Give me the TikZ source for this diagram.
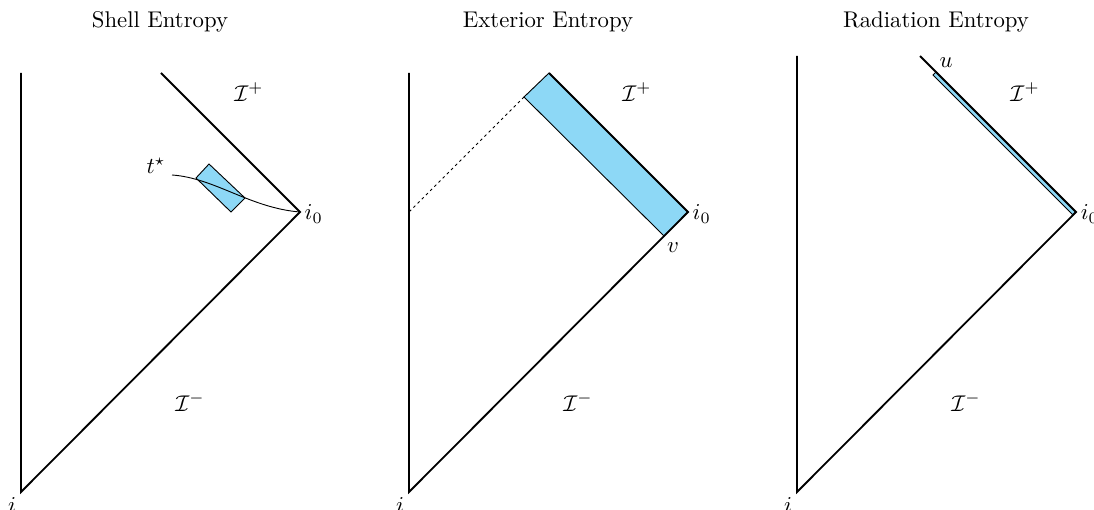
\documentclass[tikz,border=0pt]{standalone}
\usepackage{amsmath}
\usepackage{amssymb}
\usetikzlibrary{backgrounds}
\definecolor{bandblue}{RGB}{141,216,246}

\begin{document}
\begin{tikzpicture}[x=0.44pt,y=-0.44pt]
\useasboundingbox (0,0) rectangle (1094,510);
% three Penrose diagrams
\foreach \x/\n/\yt/\ttl in {21/1/73/Shell Entropy,409/2/73/Exterior Entropy,797/3/56/Radiation Entropy}{
  \coordinate (im\n) at (\x,492);
  \coordinate (io\n) at (\x+279,212);
  \coordinate (top\n) at (\x,\yt);
  \coordinate (scri\n) at (\x+67+\yt,\yt);
  \draw[thick] (top\n) -- (im\n) -- (io\n) -- (scri\n);
  \node (ttl\n) at (\x+139,22) {\ttl};
  \node (ip\n) at (\x+228,92) {$\mathcal{I}^+$};
  \node (in\n) at (\x+169,402) {$\mathcal{I}^-$};
  \node[anchor=west,inner sep=1pt] (lio\n) at (\x+281,214) {$i_0$};
  \node (lim\n) at (\x-9,505) {$i$};
}
% shell
\draw[thin,fill=bandblue] (209,164) -- (245,198) -- (231,212) -- (196,178) -- cycle;
\coordinate (ts) at (172,175);
\draw[thin] (ts) .. controls (215,178) and (250,208) .. (io1);
\node (tstar) at (156,166) {$t^\star$};
% exterior
\coordinate (v2) at (664,236);
\coordinate (w2) at (524,97);
\coordinate (hz2) at (409,212);
\begin{scope}[on background layer]
\draw[thin,fill=bandblue] (scri2) -- (io2) -- (v2) -- (w2) -- cycle;
\end{scope}
\draw[dash pattern=on 1.2pt off 1.4pt] (w2) -- (hz2);
\node (lv) at (673,248) {$v$};
% radiation
\coordinate (u3) at (936,72);
\coordinate (u3b) at (933,75);
\coordinate (io3b) at (1073,215);
\begin{scope}[on background layer]
\draw[thin,fill=bandblue] (u3) -- (io3) -- (io3b) -- (u3b) -- cycle;
\end{scope}
\node (lu) at (946,63) {$u$};
\end{tikzpicture}
\end{document}
